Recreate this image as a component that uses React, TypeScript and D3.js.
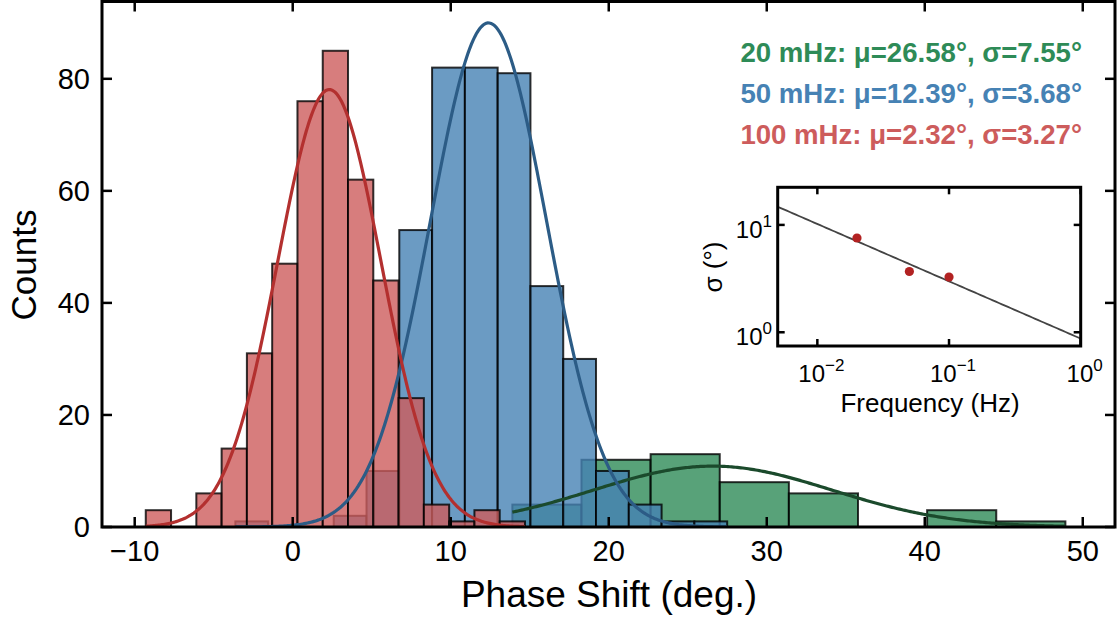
import React from "react";
import * as d3 from "d3";

// ---------- data ----------
const redStart = -9.3;
const redWidth = 1.6;
const redCounts = [3, 0, 6, 14, 31, 47, 76, 85, 62, 44, 23, 4, 1, 3, 1];

const blueStart = -3.63;
const blueWidth = 2.075;
const blueCounts = [1, 0, 0, 2, 10, 53, 82, 82, 81, 43, 30, 10, 4, 1, 1];

const greenStart = 13.9;
const greenWidth = 4.375;
const greenCounts = [4, 12, 13, 8, 6, 0, 3, 1];

const fitMu = { green: 26.58, blue: 12.39, red: 2.32 };
const fitSigma = { green: 7.55, blue: 3.68, red: 3.27 };

const legendLabels = [
  "20 mHz: μ=26.58°, σ=7.55°",
  "50 mHz: μ=12.39°, σ=3.68°",
  "100 mHz: μ=2.32°, σ=3.27°",
];

const xTicks = [-10, 0, 10, 20, 30, 40, 50];
const yTicks = [0, 20, 40, 60, 80];

const insetFreq = [0.02, 0.05, 0.1];
const insetSigma = [7.55, 3.68, 3.27];
const insetXTicks = [0.01, 0.1, 1];
const insetXExp = ["−2", "−1", "0"];
const insetYTicks = [1, 10];
const insetYExp = ["0", "1"];

// ---------- layout ----------
const W = 1120;
const H = 619;
const L = 102, R = 1115, T = 1.5, B = 527;

const x = d3.scaleLinear().domain([-12.07, 52.04]).range([L, R]);
const y = d3.scaleLinear().domain([0, 93.8]).range([B, T]);

const IL = 777.7, IR = 1080.7, IT = 187.3, IB = 346;
const ix = d3.scaleLog().domain([0.005, 1]).range([IL, IR]);
const iy = d3.scaleLog().domain([0.745, 22.4]).range([IB, IT]);

const FONT = "'Liberation Sans', Arial, Helvetica, sans-serif";

type Series = {
  start: number;
  width: number;
  counts: number[];
  fill: string;
  line: string;
  mu: number;
  sigma: number;
};

const series: Series[] = [
  { start: greenStart, width: greenWidth, counts: greenCounts, fill: "#2e8b57", line: "#1b4a2c", mu: fitMu.green, sigma: fitSigma.green },
  { start: blueStart, width: blueWidth, counts: blueCounts, fill: "#4682b4", line: "#2c5c86", mu: fitMu.blue, sigma: fitSigma.blue },
  { start: redStart, width: redWidth, counts: redCounts, fill: "#cd5c5c", line: "#b3302f", mu: fitMu.red, sigma: fitSigma.red },
];

function gaussPath(s: Series) {
  const n = d3.sum(s.counts);
  const lo = s.start;
  const hi = s.start + s.width * s.counts.length;
  const amp = (n * s.width) / (s.sigma * Math.sqrt(2 * Math.PI));
  const pts: [number, number][] = d3.range(0, 301).map((i) => {
    const v = lo + ((hi - lo) * i) / 300;
    return [v, amp * Math.exp(-0.5 * ((v - s.mu) / s.sigma) ** 2)];
  });
  return d3.line<[number, number]>().x((d) => x(d[0])).y((d) => y(d[1]))(pts) || "";
}

// power-law fit of inset points (least squares in log-log)
function powerFit() {
  const lx = insetFreq.map(Math.log10);
  const ly = insetSigma.map(Math.log10);
  const mx = d3.mean(lx)!;
  const my = d3.mean(ly)!;
  let sxy = 0, sxx = 0;
  lx.forEach((v, i) => {
    sxy += (v - mx) * (ly[i] - my);
    sxx += (v - mx) * (v - mx);
  });
  const slope = sxy / sxx;
  const inter = my - slope * mx;
  return (f: number) => Math.pow(10, inter + slope * Math.log10(f));
}

export default function App() {
  const fit = powerFit();
  const fitPts: [number, number][] = d3.range(0, 101).map((i) => {
    const f = Math.pow(10, Math.log10(0.005) + (Math.log10(1) - Math.log10(0.005)) * (i / 100));
    return [f, fit(f)];
  });
  const fitLine = d3.line<[number, number]>().x((d) => ix(d[0])).y((d) => iy(d[1]))(fitPts) || "";

  const legendColors = ["#2e8b57", "#4682b4", "#cd5c5c"];

  return (
    <svg
      width={W}
      height={H}
      style={{ position: "absolute", left: 0, top: 0, background: "#fff" }}
      fontFamily={FONT}
    >
      <defs>
        <clipPath id="plotclip">
          <rect x={L} y={T} width={R - L} height={B - T} />
        </clipPath>
        <clipPath id="insetclip">
          <rect x={IL} y={IT} width={IR - IL} height={IB - IT} />
        </clipPath>
      </defs>
      <rect x={0} y={0} width={W} height={H} fill="#fff" />

      {/* bars */}
      <g clipPath="url(#plotclip)">
        {series.map((s, si) => (
          <g key={si}>
            {s.counts.map((c, i) =>
              c > 0 ? (
                <rect
                  key={i}
                  x={x(s.start + i * s.width)}
                  y={y(c)}
                  width={x(s.start + (i + 1) * s.width) - x(s.start + i * s.width)}
                  height={y(0) - y(c)}
                  fill={s.fill}
                  fillOpacity={0.8}
                  stroke="#000"
                  strokeOpacity={0.8}
                  strokeWidth={2}
                />
              ) : null
            )}
          </g>
        ))}
        {series.map((s, si) => (
          <path key={"c" + si} d={gaussPath(s)} fill="none" stroke={s.line} strokeWidth={3.2} />
        ))}
      </g>

      {/* frame */}
      <rect x={L} y={T} width={R - L} height={B - T} fill="none" stroke="#000" strokeWidth={3} />

      {/* x ticks */}
      {xTicks.map((t) => (
        <g key={"xt" + t}>
          <line x1={x(t)} x2={x(t)} y1={B} y2={B - 10} stroke="#000" strokeWidth={2.5} />
          <line x1={x(t)} x2={x(t)} y1={T} y2={T + 10} stroke="#000" strokeWidth={2.5} />
          <text x={x(t)} y={561} textAnchor="middle" fontSize={29} fill="#000">
            {t < 0 ? "−" + Math.abs(t) : String(t)}
          </text>
        </g>
      ))}
      {/* y ticks */}
      {yTicks.map((t) => (
        <g key={"yt" + t}>
          <line x1={L} x2={L + 10} y1={y(t)} y2={y(t)} stroke="#000" strokeWidth={2.5} />
          <line x1={R} x2={R - 10} y1={y(t)} y2={y(t)} stroke="#000" strokeWidth={2.5} />
          <text x={90} y={y(t) + 10} textAnchor="end" fontSize={29} fill="#000">
            {t}
          </text>
        </g>
      ))}

      <text transform="translate(36,265) rotate(-90)" textAnchor="middle" fontSize={35} fill="#000">
        Counts
      </text>
      <text x={609} y={607} textAnchor="middle" fontSize={37} fill="#000">
        Phase Shift (deg.)
      </text>

      {/* legend text */}
      {legendLabels.map((lab, i) => (
        <text key={lab} x={1082} y={62 + i * 41} textAnchor="end" fontSize={27.6} fontWeight="bold" fill={legendColors[i]}>
          {lab}
        </text>
      ))}

      {/* inset */}
      <rect x={IL} y={IT} width={IR - IL} height={IB - IT} fill="#fff" />
      <g clipPath="url(#insetclip)">
        <path d={fitLine} fill="none" stroke="#444" strokeWidth={1.8} />
        {insetFreq.map((f, i) => (
          <circle key={i} cx={ix(f)} cy={iy(insetSigma[i])} r={4.6} fill="#b22222" />
        ))}
      </g>
      <rect x={IL} y={IT} width={IR - IL} height={IB - IT} fill="none" stroke="#000" strokeWidth={3} />
      {insetXTicks.map((t, i) => (
        <g key={"ixt" + i}>
          <line x1={ix(t)} x2={ix(t)} y1={IB} y2={IB - 7} stroke="#000" strokeWidth={2.5} />
          <line x1={ix(t)} x2={ix(t)} y1={IT} y2={IT + 7} stroke="#000" strokeWidth={2.5} />
          <text x={ix(t) + 4} y={382} textAnchor="middle" fontSize={24} fill="#000">
            10
            <tspan dy={-11} fontSize={17}>
              {insetXExp[i]}
            </tspan>
          </text>
        </g>
      ))}
      {insetYTicks.map((t, i) => (
        <g key={"iyt" + i}>
          <line x1={IL} x2={IL + 7} y1={iy(t)} y2={iy(t)} stroke="#000" strokeWidth={2.5} />
          <line x1={IR} x2={IR - 7} y1={iy(t)} y2={iy(t)} stroke="#000" strokeWidth={2.5} />
          <text x={772} y={iy(t) + 13} textAnchor="end" fontSize={24} fill="#000">
            10
            <tspan dy={-11} fontSize={17}>
              {insetYExp[i]}
            </tspan>
          </text>
        </g>
      ))}
      <text x={930} y={412} textAnchor="middle" fontSize={26} fill="#000">
        Frequency (Hz)
      </text>
      <text transform="translate(722,267) rotate(-90)" textAnchor="middle" fontSize={26} fill="#000">
        σ (°)
      </text>
    </svg>
  );
}
